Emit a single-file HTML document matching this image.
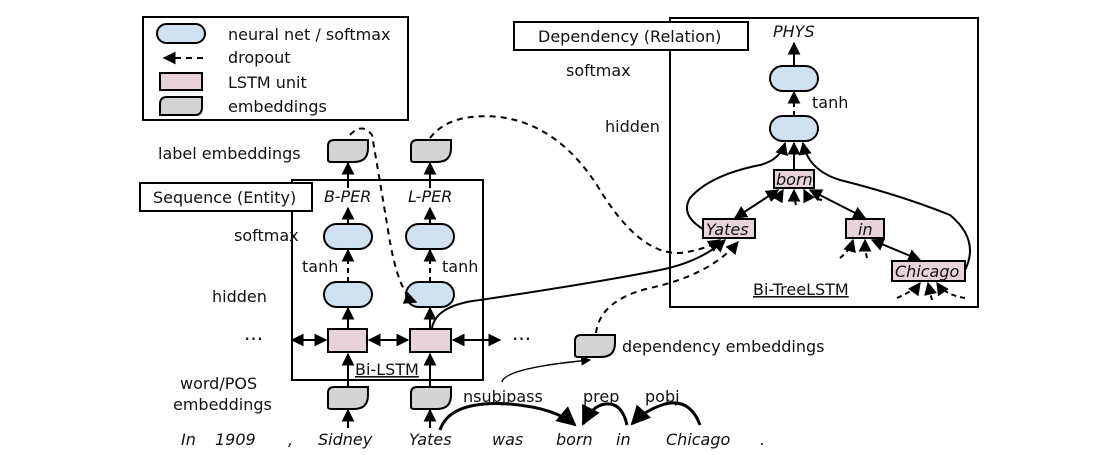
<!DOCTYPE html>
<html><head><meta charset="utf-8"><style>
body{margin:0;background:#fff;}
svg{display:block;}
text{font-family:"DejaVu Sans","Liberation Sans",sans-serif;font-size:16px;fill:#111;}
.it{font-style:italic;}
</style></head><body>
<svg width="1115" height="455" viewBox="0 0 1115 455" xmlns="http://www.w3.org/2000/svg">
<defs>
<marker id="a" viewBox="0 0 10 10" refX="9" refY="5" markerWidth="6.5" markerHeight="6.5" orient="auto-start-reverse"><path d="M0,0 L10,5 L0,10 z" fill="#000"/></marker>
<g id="emb"><path d="M0,20 V6 Q0,0 6,0 H40 V8 Q40,22 26,22 H4 Q0,22 0,20 Z" fill="#d3d3d3" stroke="#000" stroke-width="2"/></g>
<g id="nn"><rect x="0" y="0" width="48" height="25" rx="12.5" fill="#cfe0f1" stroke="#000" stroke-width="2"/></g>
</defs>
<g stroke="#000" stroke-width="2" fill="none">
<rect x="143" y="17" width="265" height="103" fill="#fff"/>
<rect x="292" y="180" width="191" height="200"/>
<rect x="670" y="18" width="308" height="289"/>
</g>
<rect x="157" y="24" width="48" height="19" rx="9.5" fill="#cfe0f1" stroke="#000" stroke-width="2"/>
<text x="228" y="40">neural net / softmax</text>
<line x1="164" y1="58" x2="203" y2="58" stroke="#000" stroke-width="2" stroke-dasharray="6,5" marker-start="url(#a)"/>
<text x="228" y="63">dropout</text>
<rect x="160" y="73" width="42" height="17" fill="#e8d3dd" stroke="#000" stroke-width="2"/>
<text x="228" y="88">LSTM unit</text>
<path d="M160,115 V104 Q160,97 167,97 H202 V107 Q202,115 195,115 Z" fill="#d3d3d3" stroke="#000" stroke-width="2"/>
<text x="228" y="112">embeddings</text>

<rect x="514" y="22" width="234" height="28" fill="#fff" stroke="#000" stroke-width="2"/>
<text x="538" y="42">Dependency (Relation)</text>
<rect x="140" y="183" width="172" height="28" fill="#fff" stroke="#000" stroke-width="2"/>
<text x="153" y="203">Sequence (Entity)</text>

<text x="158" y="159">label embeddings</text>
<text x="234" y="241">softmax</text>
<text x="212" y="302">hidden</text>
<text x="244" y="346" style="font-size:20px">···</text>
<text x="180" y="389">word/POS</text>
<text x="173" y="410">embeddings</text>
<text class="it" x="324" y="202">B-PER</text>
<text class="it" x="408" y="202">L-PER</text>
<text x="302" y="272">tanh</text>
<text x="442" y="272">tanh</text>
<text x="512" y="346" style="font-size:20px">···</text>

<use href="#emb" x="328" y="140"/><use href="#emb" x="411" y="140"/>
<use href="#nn" x="324" y="224"/><use href="#nn" x="406" y="224"/>
<use href="#nn" x="324" y="282"/><use href="#nn" x="406" y="282"/>
<rect x="328" y="329" width="39" height="23" fill="#e8d3dd" stroke="#000" stroke-width="2"/>
<rect x="410" y="329" width="41" height="23" fill="#e8d3dd" stroke="#000" stroke-width="2"/>
<use href="#emb" x="328" y="387"/><use href="#emb" x="411" y="387"/>
<text x="355" y="375" style="text-decoration:underline">Bi-LSTM</text>

<g stroke="#000" stroke-width="2" fill="none" marker-end="url(#a)">
<line x1="348" y1="188" x2="348" y2="163"/><line x1="430" y1="188" x2="430" y2="163"/>
<line x1="348" y1="224" x2="348" y2="208"/><line x1="430" y1="224" x2="430" y2="208"/>
<line x1="348" y1="282" x2="348" y2="250" stroke-dasharray="5,4"/><line x1="430" y1="282" x2="430" y2="250" stroke-dasharray="5,4"/>
<line x1="348" y1="329" x2="348" y2="308"/><line x1="430" y1="329" x2="430" y2="308"/>
<line x1="348" y1="387" x2="348" y2="354"/><line x1="430" y1="387" x2="430" y2="354"/>
<line x1="348" y1="428" x2="348" y2="410"/><line x1="430" y1="428" x2="430" y2="410"/>
<line x1="292" y1="340" x2="326" y2="340" marker-start="url(#a)"/>
<line x1="369" y1="340" x2="408" y2="340" marker-start="url(#a)"/>
<line x1="453" y1="340" x2="500" y2="340" marker-start="url(#a)"/>
<path d="M350,135 Q362,122 372,135 Q378,170 388,230 Q398,295 416,302" stroke-dasharray="6,5"/>
<path d="M430,138 Q450,112 500,117 Q560,125 600,190 Q640,255 680,253 Q705,250 720,240" stroke-dasharray="6,5"/>
<path d="M432,328 Q436,305 480,300 Q600,282 660,270 Q700,262 725,240"/>
<path d="M596,333 Q600,300 650,288 Q710,275 738,242" stroke-dasharray="6,5"/>
<path d="M502,382 Q505,368 590,360" stroke-width="1.5"/>
<path d="M440,430 Q450,400 510,404 Q555,408 575,425" stroke-width="3"/>
<path d="M627,425 Q622,402 605,404 Q592,406 583,424" stroke-width="3"/>
<path d="M700,425 Q690,398 665,404 Q645,410 632,424" stroke-width="3"/>
</g>
<use href="#emb" x="575" y="335"/>
<text x="622" y="352">dependency embeddings</text>
<text x="463" y="402">nsubjpass</text>
<text x="583" y="402">prep</text>
<text x="645" y="402">pobj</text>
<text class="it" x="181" y="445">In</text>
<text class="it" x="215" y="445">1909</text>
<text class="it" x="288" y="445">,</text>
<text class="it" x="318" y="445">Sidney</text>
<text class="it" x="409" y="445">Yates</text>
<text class="it" x="492" y="445">was</text>
<text class="it" x="556" y="445">born</text>
<text class="it" x="616" y="445">in</text>
<text class="it" x="666" y="445">Chicago</text>
<text class="it" x="760" y="445">.</text>

<text class="it" x="773" y="37">PHYS</text>
<text x="566" y="76">softmax</text>
<text x="605" y="132">hidden</text>
<text x="812" y="108">tanh</text>
<use href="#nn" x="770" y="66"/>
<use href="#nn" x="770" y="116"/>
<rect x="774" y="170" width="40" height="18" fill="#e8d3dd" stroke="#000" stroke-width="2"/>
<text class="it" x="776" y="185">born</text>
<rect x="703" y="219" width="52" height="19" fill="#e8d3dd" stroke="#000" stroke-width="2"/>
<text class="it" x="706" y="235">Yates</text>
<rect x="846" y="219" width="38" height="19" fill="#e8d3dd" stroke="#000" stroke-width="2"/>
<text class="it" x="858" y="235">in</text>
<rect x="892" y="261" width="73" height="20" fill="#e8d3dd" stroke="#000" stroke-width="2"/>
<text class="it" x="895" y="277">Chicago</text>
<text x="753" y="295" style="text-decoration:underline">Bi-TreeLSTM</text>
<g stroke="#000" stroke-width="2" fill="none" marker-end="url(#a)">
<line x1="794" y1="66" x2="794" y2="43"/>
<line x1="794" y1="116" x2="794" y2="92" stroke-dasharray="5,4"/>
<line x1="794" y1="170" x2="794" y2="143"/>
<path d="M703,229 Q680,215 690,198 Q710,175 760,165 Q780,160 785,143"/>
<path d="M965,270 Q980,240 950,215 Q900,195 840,180 Q808,170 803,143"/>
<line x1="735" y1="218" x2="778" y2="190" marker-start="url(#a)"/>
<line x1="865" y1="218" x2="810" y2="190" marker-start="url(#a)"/>
<line x1="920" y1="260" x2="872" y2="240" marker-start="url(#a)"/>
<g stroke-dasharray="5,4">
<path d="M770,200 Q780,195 783,190"/><path d="M796,205 Q794,198 794,190"/><path d="M822,200 Q808,198 804,190"/>
<path d="M840,258 Q850,250 853,240"/><path d="M867,258 Q865,250 865,240"/>
<path d="M897,298 Q915,290 920,283"/><path d="M932,300 Q930,292 928,283"/><path d="M965,298 Q945,295 937,283"/>
</g>
</g>
</svg>
</body></html>
